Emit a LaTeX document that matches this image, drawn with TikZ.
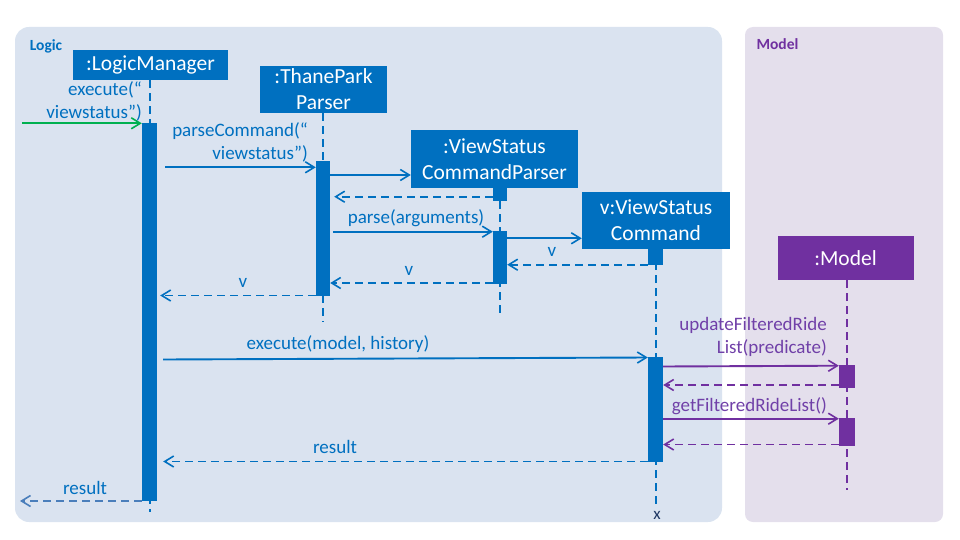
\documentclass[tikz,border=0pt]{standalone}
\usepackage{fontspec}
\setmainfont{Carlito}
\usetikzlibrary{arrows.meta}
\definecolor{cblue}{HTML}{0070C0}
\definecolor{cpurple}{HTML}{7030A0}
\definecolor{lblpurple}{HTML}{7040A8}
\definecolor{lpanel}{HTML}{DAE3F0}
\definecolor{mpanel}{HTML}{E4DFEC}
\definecolor{rblue}{HTML}{4A7EBB}
\definecolor{cgreen}{HTML}{00B050}
\definecolor{xnavy}{HTML}{1F3864}
\begin{document}
\begin{tikzpicture}[x=1pt,y=-1pt,
  panel/.style={draw=none,inner sep=0,rounded corners=14pt},
  obj/.style={fill=cblue,text=white,font=\fontsize{21.5}{26}\selectfont,align=center,inner sep=0},
  mobj/.style={obj,fill=cpurple},
  act/.style={fill=cblue,inner sep=0,minimum width=15pt},
  mact/.style={act,fill=cpurple},
  lifeline/.style={cblue,line width=2pt,dash pattern=on 8pt off 5pt},
  mlifeline/.style={lifeline,cpurple},
  tip/.style={-{Straight Barb[length=9pt,width=11pt,line width=1.6pt]}},
  msg/.style={cblue,line width=1.9pt,tip},
  ret/.style={msg,dash pattern=on 8pt off 5pt},
  mmsg/.style={msg,cpurple},
  mret/.style={ret,cpurple},
  lbl/.style={text=cblue,font=\fontsize{19}{23}\selectfont,inner sep=0},
  mlbl/.style={lbl,text=lblpurple},
  title/.style={font=\fontsize{15.5}{17}\selectfont\bfseries,inner sep=0}
]
\useasboundingbox (0,0) rectangle (960,540);
% panels
\node[panel,fill=lpanel,minimum width=707pt,minimum height=495pt] (logic) at (368.5,274.5) {};
\node[panel,fill=mpanel,rounded corners=8pt,minimum width=198pt,minimum height=495pt] (modelp) at (844,274.5) {};
\node[title,text=cblue] (logict) at (46,46) {Logic};
\node[title,text=cpurple] (modelt) at (777.5,44) {Model};

% objects
\node[obj,minimum width=155pt,minimum height=30pt] (lm) at (150.5,65) {:LogicManager};
\node[obj,minimum width=127pt,minimum height=47pt] (tp) at (323.5,89.5) {:ThanePark\\Parser};
\node[obj,minimum width=167pt,minimum height=58pt] (vscp) at (494.5,159) {:ViewStatus\\CommandParser};
\node[obj,minimum width=148pt,minimum height=57pt] (vsc) at (656,220.5) {v:ViewStatus\\Command};
\node[mobj,minimum width=136pt,minimum height=44pt] (model) at (845.5,258) {:Model};

% lifeline end points
\coordinate (lmE) at (149.5,512);
\coordinate (tpE) at (323,322);
\coordinate (vsE) at (500,315);
\coordinate (vcE) at (655.5,508);
\coordinate (mE) at (847,490);

% lifelines
\draw[lifeline] (lmE |- lm.south) -- (lmE);
\draw[lifeline] (tpE |- tp.south) -- (tpE);
\draw[lifeline] (vsE |- vscp.south) -- (vsE);
\draw[lifeline] (vcE |- vsc.south) -- (vcE);
\draw[mlifeline] (mE |- model.south) -- (mE);
\node[font=\fontsize{17}{19}\selectfont,text=xnavy,inner sep=0] (xend) at (657,515) {x};

% activations
\node[act,minimum height=378pt] (lmA) at (149.5,312) {};
\node[act,minimum width=14pt,minimum height=135pt] (tpA) at (323,228.5) {};
\node[act,minimum width=14pt,minimum height=13pt] (vsA1) at (500,194.5) {};
\node[act,minimum width=14pt,minimum height=52.7pt] (vsA2) at (500,257.3) {};
\node[act,minimum height=16pt] (vcA1) at (655.5,257) {};
\node[act,minimum height=105pt] (vcA2) at (655.5,409) {};
\node[mact,minimum width=16pt,minimum height=22.7pt] (mA1) at (847,376.3) {};
\node[mact,minimum width=16pt,minimum height=28pt] (mA2) at (847,432) {};

% external coordinates
\coordinate (ext1) at (22,123.3);
\coordinate (ext2) at (20,501);

% messages
\draw[msg,cgreen] (ext1) -- (lmA.west |- ext1);
\node[lbl,align=right,anchor=east] (l1) at (142,101.5) {execute(“\\viewstatus”)};

\draw[msg] ([xshift=8pt]lmA.east |- 0,167.3) -- (tpA.west |- 0,167.3);
\node[lbl,align=right,anchor=east] (l2) at (308,142.5) {parseCommand(“\\viewstatus”)};

\draw[msg] (tpA.east |- 0,175) -- (vscp.west |- 0,175);
\draw[ret] (vsA1.west |- 0,196.7) -- ([xshift=4pt]tpA.east |- 0,196.7);

\draw[msg] ([xshift=3pt]tpA.east |- 0,231.7) -- (vsA2.west |- 0,231.7);
\node[lbl] (l3) at (416,218) {parse(arguments)};

\draw[msg] (vsA2.east |- 0,238.3) -- (vsc.west |- 0,238.3);
\draw[ret] (vcA1.west |- 0,264.7) -- (vsA2.east |- 0,264.7);
\node[lbl] (l4) at (552,252) {v};

\draw[ret] (vsA2.west |- 0,283) -- (tpA.east |- 0,283);
\node[lbl] (l5) at (409,271) {v};

\draw[ret] (tpA.west |- 0,295.5) -- ([xshift=3pt]lmA.east |- 0,295.5);
\node[lbl] (l6) at (243,283) {v};

\draw[msg] ([xshift=6pt]lmA.east |- 0,359.5) -- (vcA2.west |- 0,357.5);
\node[lbl] (l7) at (338,344) {execute(model, history)};

\draw[mmsg] (vcA2.east |- 0,366.5) -- (mA1.west |- 0,365.7);
\node[mlbl,align=right,anchor=east] (l8) at (827,337.2) {updateFilteredRide\\List(predicate)};
\draw[mret] (mA1.west |- 0,385) -- (vcA2.east |- 0,385);

\draw[mmsg] (vcA2.east |- 0,418.7) -- (mA2.west |- 0,418.7);
\node[mlbl,anchor=east] (l9) at (827,406) {getFilteredRideList()};
\draw[mret] (mA2.west |- 0,444.5) -- (vcA2.east |- 0,444.5);

\draw[ret] (vcA2.west |- 0,461.5) -- ([xshift=6pt]lmA.east |- 0,461.5);
\node[lbl] (l10) at (335,447) {result};

\draw[ret,rblue] (lmA.west |- ext2) -- (ext2);
\node[lbl] (l11) at (85,488) {result};
\end{tikzpicture}
\end{document}
